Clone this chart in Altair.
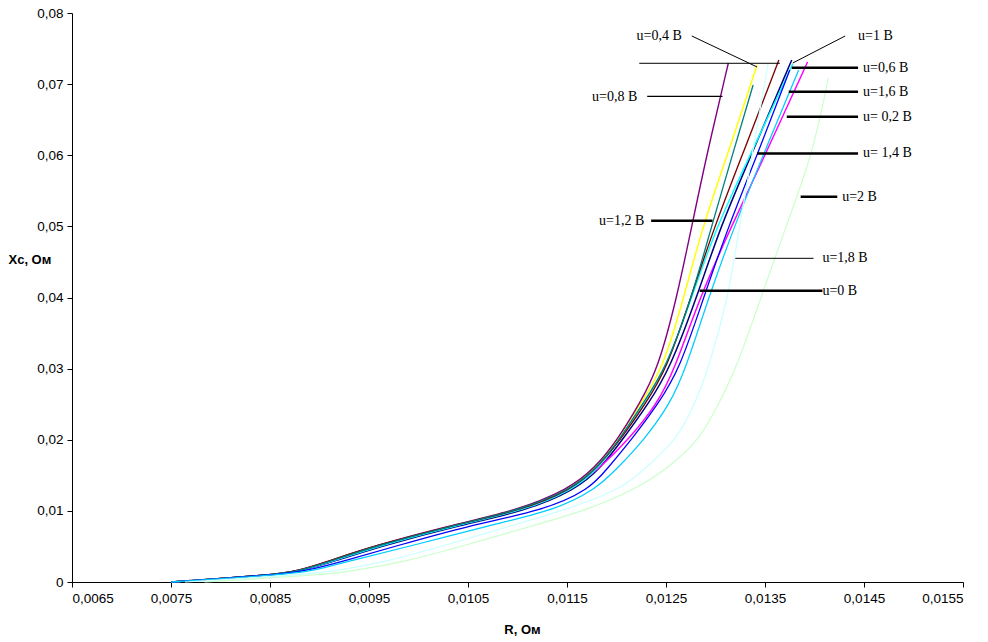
import altair as alt
import pandas as pd

# Reactance levels (Ом) at which every curve's resistance is tabulated
xc_levels = [0, 0.001, 0.0015, 0.003, 0.005, 0.008, 0.010, 0.013, 0.016,
             0.020, 0.025, 0.030, 0.040, 0.050, 0.060]

voltages = ["0", "0,2", "0,4", "0,6", "0,8", "1", "1,2", "1,4", "1,6", "1,8", "2"]
colors = ["#000080", "#FF00FF", "#FFFF00", "#00FFFF", "#800080", "#800000",
          "#008080", "#0000FF", "#00CCFF", "#CCFFFF", "#CCFFCC"]
widths = [1.5, 1.2, 1.3, 1.5, 1.3, 1.3, 1.2, 1.8, 1.8, 1.2, 1.2]

# R (Ом) of each curve at the reactance levels above
r_u00 = [0.0075, 0.00854, 0.0088, 0.00917, 0.00961, 0.01042, 0.01108, 0.01159, 0.01184, 0.01206, 0.01232, 0.01254, 0.01281, 0.01305, 0.01336]
r_u02 = [0.0075, 0.00852, 0.00878, 0.00914, 0.00957, 0.01037, 0.01100, 0.01155, 0.01183, 0.01212, 0.01241, 0.01259, 0.01284, 0.01316, 0.01350]
r_u04 = [0.0075, 0.00852, 0.00878, 0.00912, 0.00954, 0.01035, 0.01099, 0.01152, 0.01179, 0.01201, 0.01224, 0.01247, 0.01268, 0.01287, 0.01312]
r_u06 = [0.0075, 0.00853, 0.00879, 0.00915, 0.00958, 0.01039, 0.01105, 0.01157, 0.01182, 0.01203, 0.01227, 0.01250, 0.01276, 0.01301, 0.01335]
r_u08 = [0.0075, 0.00852, 0.00877, 0.00911, 0.00953, 0.01034, 0.01098, 0.01151, 0.01178, 0.01201, 0.01223, 0.01242, 0.01261, 0.01276, 0.01291]
r_u10 = [0.0075, 0.00852, 0.00877, 0.00911, 0.00953, 0.01035, 0.01102, 0.01155, 0.01180, 0.01204, 0.01229, 0.01251, 0.01275, 0.01299, 0.01327]
r_u12 = [0.0075, 0.00852, 0.00878, 0.00913, 0.00955, 0.01036, 0.01100, 0.01154, 0.01180, 0.01203, 0.01226, 0.01250, 0.01276, 0.01296, 0.01317]
r_u14 = [0.0075, 0.00855, 0.00885, 0.00926, 0.00976, 0.01052, 0.01125, 0.01173, 0.01191, 0.01215, 0.01242, 0.01264, 0.01288, 0.01313, 0.01342]
r_u16 = [0.0075, 0.00860, 0.00892, 0.00931, 0.00991, 0.01072, 0.01136, 0.01179, 0.01201, 0.01228, 0.01254, 0.01270, 0.01293, 0.01319, 0.01348]
r_u18 = [0.00764, 0.00880, 0.00916, 0.00972, 0.01023, 0.01096, 0.01145, 0.01205, 0.01229, 0.01261, 0.01279, 0.01293, 0.01313, 0.01324, 0.01337]
r_u20 = [0.00784, 0.00901, 0.00933, 0.00991, 0.01043, 0.01118, 0.01168, 0.01219, 0.01252, 0.01284, 0.01303, 0.01321, 0.01346, 0.01371, 0.01398]

# final measured point of each curve
r_end = [0.01377, 0.01393, 0.01342, 0.01378, 0.01313, 0.01364, 0.01338, 0.01375, 0.01384, 0.01353, 0.01414]
xc_end = [0.07339, 0.07311, 0.07269, 0.07283, 0.07297, 0.07339, 0.06988, 0.07199, 0.07199, 0.07283, 0.07086]

# callout leader lines
lead_r1 = [0.01276, 0.01431, 0.01223, 0.01377, 0.01231, 0.01374, 0.01372, 0.01342, 0.01386, 0.01235, 0.01320, 0.01284]
lead_r2 = [0.01342, 0.01378, 0.01365, 0.01444, 0.01307, 0.01444, 0.01444, 0.01444, 0.01423, 0.01297, 0.01399, 0.01408]
lead_x1 = [0.07677, 0.07677, 0.07293, 0.07231, 0.06829, 0.06894, 0.06542, 0.06025, 0.05417, 0.05080, 0.04551, 0.04096]
lead_x2 = [0.07241, 0.07297, 0.07293, 0.07231, 0.06829, 0.06894, 0.06542, 0.06025, 0.05417, 0.05080, 0.04551, 0.04096]
lead_w = [1, 1, 1, 2.5, 1.2, 2.5, 2.5, 2.5, 2.5, 2.5, 1, 2.5]

# callout texts
label_text = ["u=0,4 B", "u=1 B", "u=0,6 B", "u=0,8 B", "u=1,6 B", "u= 0,2 B",
              "u= 1,4 B", "u=2 B", "u=1,2 B", "u=1,8 B", "u=0 B"]
label_r = [0.01266, 0.01444, 0.01449, 0.01221, 0.01449, 0.01449, 0.01449, 0.01428, 0.01228, 0.01408, 0.01408]
label_x = [0.07677, 0.07677, 0.07231, 0.06819, 0.06894, 0.06542, 0.06025, 0.05417, 0.05080, 0.04551, 0.04096]
label_align = ["right", "left", "left", "right", "left", "left", "left", "left", "right", "left", "left"]

x_ticks = [0.0065, 0.0075, 0.0085, 0.0095, 0.0105, 0.0115, 0.0125, 0.0135, 0.0145, 0.0155]
y_ticks = [0, 0.01, 0.02, 0.03, 0.04, 0.05, 0.06, 0.07, 0.08]

series = [r_u00, r_u02, r_u04, r_u06, r_u08, r_u10, r_u12, r_u14, r_u16, r_u18, r_u20]
rows = []
for i, (u, rs) in enumerate(zip(voltages, series)):
    for r, xc in zip(rs, xc_levels):
        rows.append({"R": r, "Xc": xc, "u": u})
    rows.append({"R": r_end[i], "Xc": xc_end[i], "u": u})
curves = pd.DataFrame(rows)

leaders = pd.DataFrame({"r1": lead_r1, "r2": lead_r2, "x1": lead_x1, "x2": lead_x2, "w": lead_w})
labels = pd.DataFrame({"t": label_text, "r": label_r, "x": label_x, "a": label_align})

x_scale = alt.Scale(domain=[0.0065, 0.0155], nice=False, zero=False)
y_scale = alt.Scale(domain=[0, 0.08], nice=False)

x_axis = alt.Axis(values=x_ticks, labelExpr="replace(format(datum.value, '.4f'), '.', ',')",
                  title="R, Ом", grid=False, tickSize=5, domainColor="#000000", tickColor="#000000",
                  labelFont="Liberation Sans", labelFontSize=13.5, labelColor="#000000", labelPadding=4,
                  titleFont="Liberation Sans", titleFontSize=13, titleFontWeight="bold",
                  titleColor="#000000", titleX=450, titleY=47, titleBaseline="middle")
y_axis = alt.Axis(values=y_ticks,
                  labelExpr="datum.value == 0 ? '0' : replace(format(datum.value, '.2f'), '.', ',')",
                  title="Xc, Ом", grid=False, tickSize=5, domainColor="#000000", tickColor="#000000",
                  labelFont="Liberation Sans", labelFontSize=13.5, labelColor="#000000", labelPadding=4,
                  titleFont="Liberation Sans", titleFontSize=13, titleFontWeight="bold",
                  titleColor="#000000", titleAngle=0, titleAlign="left", titleBaseline="middle",
                  titleX=-64, titleY=246)

lines = alt.Chart(curves).mark_line(interpolate="basis").encode(
    x=alt.X("R:Q", scale=x_scale, axis=x_axis),
    y=alt.Y("Xc:Q", scale=y_scale, axis=y_axis),
    color=alt.Color("u:N", scale=alt.Scale(domain=voltages, range=colors), legend=None),
    strokeWidth=alt.StrokeWidth("u:N", scale=alt.Scale(domain=voltages, range=widths), legend=None),
    order=alt.Order("R:Q"),
)

rules = alt.Chart(leaders).mark_rule(color="#000000").encode(
    x=alt.X("r1:Q", scale=x_scale), x2="r2:Q",
    y=alt.Y("x1:Q", scale=y_scale), y2="x2:Q",
    strokeWidth=alt.StrokeWidth("w:Q", scale=None),
)

text_left = alt.Chart(labels).transform_filter("datum.a == 'left'").mark_text(
    align="left", baseline="middle", font="Liberation Serif", fontSize=14, color="#000000"
).encode(x=alt.X("r:Q", scale=x_scale), y=alt.Y("x:Q", scale=y_scale), text="t:N")

text_right = alt.Chart(labels).transform_filter("datum.a == 'right'").mark_text(
    align="right", baseline="middle", font="Liberation Serif", fontSize=14, color="#000000"
).encode(x=alt.X("r:Q", scale=x_scale), y=alt.Y("x:Q", scale=y_scale), text="t:N")

chart = alt.layer(lines, rules, text_left, text_right).properties(
    width=891, height=569,
    autosize=alt.AutoSizeParams(type="none"),
    padding={"left": 72, "top": 13, "right": 25, "bottom": 60},
    background="white",
).configure_view(stroke=None)

chart.save("out.html", embed_options={"renderer": "svg", "actions": False})
